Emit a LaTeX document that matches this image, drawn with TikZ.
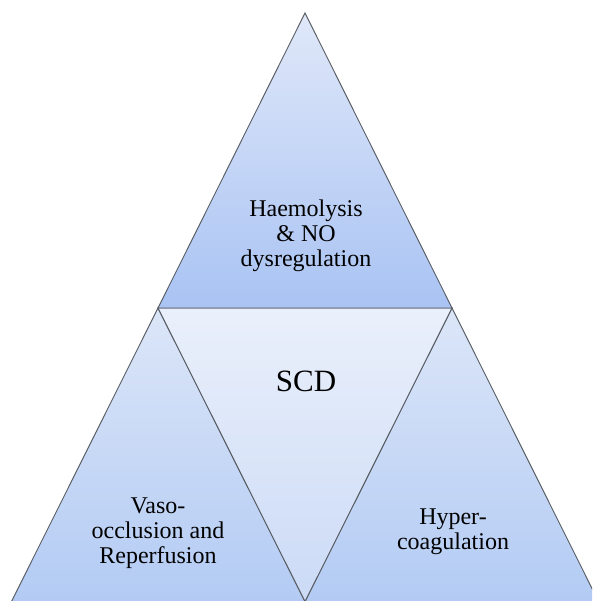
\documentclass[tikz,border=0pt]{standalone}
\usepackage{fontspec}
\setmainfont{Liberation Serif}
\definecolor{edgegray}{HTML}{5A5F66}
\definecolor{topA}{HTML}{E0E8F9}
\definecolor{topB}{HTML}{A9C3F3}
\definecolor{midA}{HTML}{EAF0FB}
\definecolor{midB}{HTML}{CBDAF6}
\definecolor{botA}{HTML}{DCE6F8}
\definecolor{botB}{HTML}{B3CBF4}
\tikzset{
  tri/.style={draw=edgegray, line width=0.95pt, line join=miter},
  lbl/.style={align=center, font=\fontsize{24}{24.8}\selectfont, inner sep=0pt},
  big/.style={font=\fontsize{31}{36}\selectfont, inner sep=0pt}
}
\begin{document}
\begin{tikzpicture}[x=1pt,y=-1pt]
\useasboundingbox (0,0) rectangle (592,601);
\clip (0,0) rectangle (592,601);
\coordinate (apex) at (305,13);
\coordinate (tl) at (158,308);
\coordinate (tr) at (452,308);
\coordinate (bl) at (11.5,601.5);
\coordinate (bm) at (305,601.5);
\coordinate (br) at (598.5,601.5);
% bottom-left
\shade[tri, top color=botA, bottom color=botB] (tl) -- (bm) -- (bl) -- cycle;
% bottom-right
\shade[tri, top color=botA, bottom color=botB] (tr) -- (br) -- (bm) -- cycle;
% middle
\shade[tri, top color=midA, bottom color=midB] (tl) -- (tr) -- (bm) -- cycle;
% top
\shade[tri, top color=topA, bottom color=topB] (apex) -- (tr) -- (tl) -- cycle;
\node[lbl] (haem) at (306,236) {Haemolysis\\\& NO\\dysregulation};
\node[big] (scd) at (306,381) {SCD};
\node[lbl] (vaso) at (158,533) {Vaso-\\occlusion and\\Reperfusion};
\node[lbl] (hyper) at (453,532) {Hyper-\\coagulation};
\end{tikzpicture}
\end{document}
